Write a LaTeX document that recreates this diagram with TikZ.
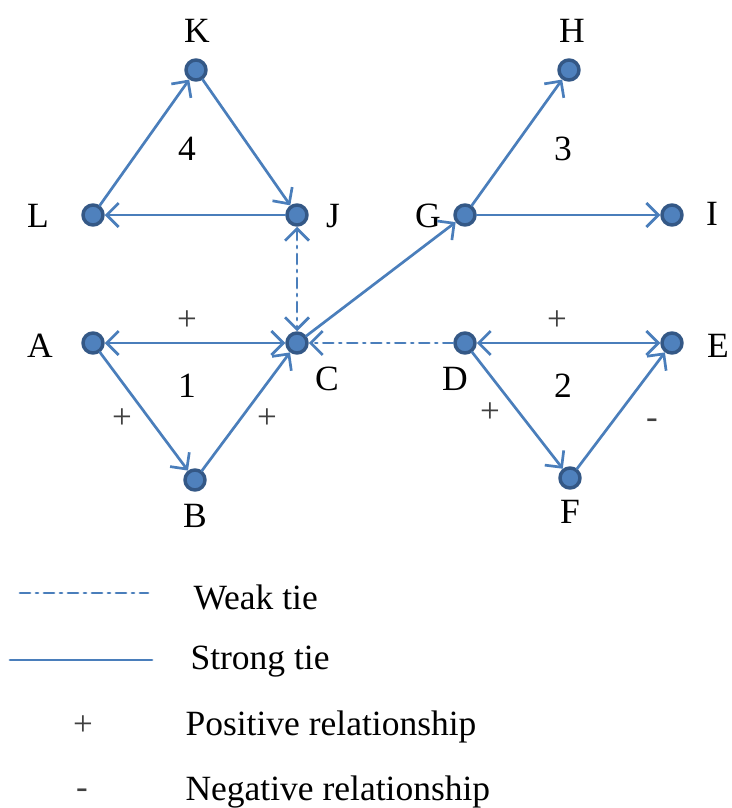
\documentclass[tikz,border=0pt]{standalone}
\usepackage{fontspec}
\setmainfont{Liberation Serif}
\usepackage{xcolor}
\usetikzlibrary{arrows.meta}
\definecolor{tieblue}{RGB}{74,126,187}
\definecolor{dotfill}{RGB}{79,129,189}
\definecolor{dotrim}{RGB}{52,88,134}

\begin{document}
\begin{tikzpicture}[x=1pt,y=-1pt,line cap=round,line join=round]
\tikzset{
    actor/.style={circle, inner sep=0pt, minimum size=20pt, fill=dotfill, draw=dotrim, line width=3.5pt},
    strong/.style={draw=tieblue, line width=2.7pt, -{Straight Barb[length=12pt,width=24pt]}},
    both/.style={{Straight Barb[length=12pt,width=24pt]}-{Straight Barb[length=12pt,width=24pt]}},
    weak/.style={strong, dash pattern=on 10pt off 6pt on 2pt off 6pt},
    tag/.style={font=\fontsize{35.5}{40}\selectfont},
    sign/.style={font=\fontsize{35}{38}\selectfont, text=black!75, inner sep=0pt},
}
\useasboundingbox (0,0) rectangle (731,808);
% actors
\node[actor] (K) at (196,70) {};
\node[actor] (H) at (569,70) {};
\node[actor] (L) at (93,215) {};
\node[actor] (J) at (297,215) {};
\node[actor] (G) at (465,215) {};
\node[actor] (I) at (672,215) {};
\node[actor] (A) at (93,343) {};
\node[actor] (C) at (297,343) {};
\node[actor] (D) at (465,343) {};
\node[actor] (E) at (672,343) {};
\node[actor] (B) at (195,480) {};
\node[actor] (F) at (570,478) {};
% names
\node[tag] (lK) at (197,31) {K};
\node[tag] (lH) at (572,31) {H};
\node[tag] (lL) at (38,216) {L};
\node[tag] (lJ) at (333,216) {J};
\node[tag] (lG) at (428,216) {G};
\node[tag] (lI) at (712,214) {I};
\node[tag] (lA) at (40,346) {A};
\node[tag] (lC) at (327,379) {C};
\node[tag] (lD) at (455,379) {D};
\node[tag] (lE) at (718,346) {E};
\node[tag] (lB) at (195,516) {B};
\node[tag] (lF) at (570,512) {F};
% triad numbers
\node[tag] (n4) at (187,149) {4};
\node[tag] (n3) at (563,149) {3};
\node[tag] (n1) at (187,386) {1};
\node[tag] (n2) at (563,386) {2};
% ties
\draw[strong] (L) -- (K);
\draw[strong] (K) -- (J);
\draw[strong] (J) -- (L);
\draw[weak, both] (J) -- (C);
\draw[strong, both] (A) -- (C);
\draw[strong] (A) -- (B);
\draw[strong] (B) -- (C);
\draw[strong] (C) -- (G);
\draw[strong] (G) -- (H);
\draw[strong] (G) -- (I);
\draw[weak] (D) -- (C);
\draw[strong, both] (D) -- (E);
\draw[strong] (D) -- (F);
\draw[strong] (F) -- (E);
% signs
\node[sign] (sAC) at (187,321) {+};
\node[sign] (sAB) at (122,419) {+};
\node[sign] (sBC) at (267,419) {+};
\node[sign] (sDE) at (557,321) {+};
\node[sign] (sDF) at (490,413) {+};
\node[sign] (sFE) at (652,424) {-};
% legend
\coordinate (w1) at (20,593);
\coordinate (w2) at (148,593);
\coordinate (s1) at (10,660);
\coordinate (s2) at (152,660);
\draw[weak, -] (w1) -- (w2);
\draw[strong, -] (s1) -- (s2);
\node[sign] (kp) at (83,726) {+};
\node[sign] (km) at (82,794) {-};
\node[tag, anchor=west] (kw) at (190,597) {Weak tie};
\node[tag, anchor=west] (ks) at (187,662) {Strong tie};
\node[tag, anchor=west] (kpt) at (182,727) {Positive relationship};
\node[tag, anchor=west] (kmt) at (182,792) {Negative relationship};
\end{tikzpicture}
\end{document}
